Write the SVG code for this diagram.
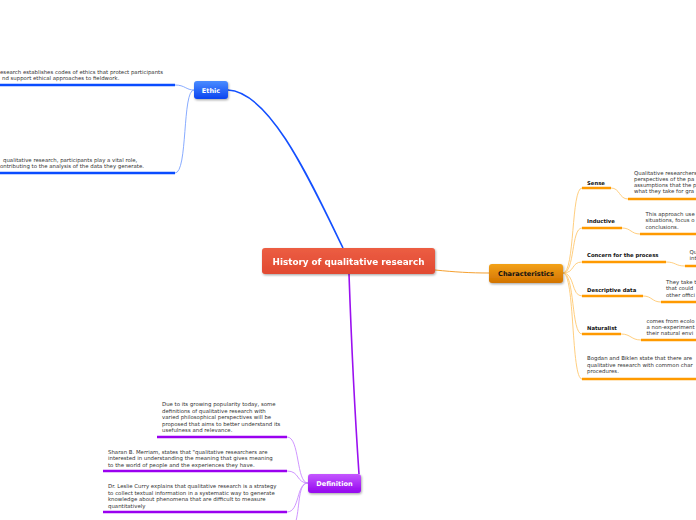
<svg xmlns="http://www.w3.org/2000/svg" width="696" height="520" viewBox="0 0 696 520">
<defs>
<linearGradient id="gMain" x1="0" y1="0" x2="0" y2="1"><stop offset="0" stop-color="#ec5d43"/><stop offset="1" stop-color="#e14a31"/></linearGradient>
<linearGradient id="gBlue" x1="0" y1="0" x2="0" y2="1"><stop offset="0" stop-color="#4a8cff"/><stop offset="1" stop-color="#0a44f0"/></linearGradient>
<linearGradient id="gOrange" x1="0" y1="0" x2="0" y2="1"><stop offset="0" stop-color="#f3a21a"/><stop offset="1" stop-color="#d27300"/></linearGradient>
<linearGradient id="gPurple" x1="0" y1="0" x2="0" y2="1"><stop offset="0" stop-color="#c457ff"/><stop offset="1" stop-color="#9406ee"/></linearGradient>
<filter id="sh" x="-20%" y="-30%" width="140%" height="170%"><feDropShadow dx="0.8" dy="1.2" stdDeviation="1" flood-color="#000" flood-opacity="0.35"/></filter>
</defs>
<style>
.topic{font-family:"DejaVu Sans",Verdana,sans-serif;font-weight:bold;fill:#fff;text-anchor:middle}
.lbl{font-family:"DejaVu Sans",Verdana,sans-serif;font-weight:bold;font-size:5.3px;fill:#111}
.txt{font-family:"DejaVu Sans",Verdana,sans-serif;font-size:5.4px;fill:#333}
.ulB{stroke:#0a4cff;stroke-width:2.5;fill:none}
.ulO{stroke:#ff9a00;stroke-width:2.5;fill:none}
.ulP{stroke:#9a00f0;stroke-width:2.5;fill:none}
.cB{stroke:#7aa2ff;stroke-width:0.9;fill:none}
.cO{stroke:#ffc870;stroke-width:0.9;fill:none}
.cP{stroke:#c98aff;stroke-width:0.9;fill:none}
</style>

<g id="connectors">
<path d="M343,248 C310,180 270,92 228,90" stroke="#1450ff" stroke-width="1.6" fill="none"/>
<path d="M435,270 C455,272 470,273 489,273" stroke="#f5a030" stroke-width="1" fill="none"/>
<path d="M349,274 C352,360 356,430 359,474" stroke="#9a10f0" stroke-width="1.6" fill="none"/>
<path class="cB" d="M175,85 C185,85 186,90 194,90"/>
<path class="cB" d="M175,173 C188,173 182,90 194,90"/>
<path class="cO" d="M563,273 C575,273 571,188 582,188"/>
<path class="cO" d="M563,273 C575,273 571,228 582,228"/>
<path class="cO" d="M563,273 C575,273 571,262 582,262"/>
<path class="cO" d="M563,273 C575,273 571,296 582,296"/>
<path class="cO" d="M563,273 C575,273 571,334 582,334"/>
<path class="cO" d="M563,273 C575,273 571,379 582,379"/>
<path class="cO" d="M611,188 C620,188 619,199 628,199"/>
<path class="cO" d="M622,228 C631,228 631,234 640,234"/>
<path class="cO" d="M666,262 C676,262 675,266 685,266"/>
<path class="cO" d="M643,296 C652,296 652,302 661,302"/>
<path class="cO" d="M621,334 C631,334 631,340 641,340"/>
<path class="cP" d="M308,483 C296,483 300,437 287,437"/>
<path class="cP" d="M308,483 C296,483 300,471 287,471"/>
<path class="cP" d="M308,483 C296,483 300,512 287,512"/>
<path class="cP" d="M308,483 C298,483 300,505 296,521"/>
</g>

<g id="node-main" filter="url(#sh)">
<rect x="262" y="248" width="173" height="26" rx="3" fill="url(#gMain)"/>
<text class="topic" x="348.5" y="264.5" font-size="8.8">History of qualitative research</text>
</g>

<g id="node-ethic">
<rect x="194" y="81" width="34" height="18" rx="3" fill="url(#gBlue)" filter="url(#sh)"/>
<text class="topic" x="211" y="93" font-size="6.5">Ethic</text>
</g>
<g id="ethic-1">
<text class="txt"><tspan x="0" y="74">esearch establishes codes of ethics that protect participants</tspan><tspan x="2" y="80">nd support ethical approaches to fieldwork.</tspan></text>
<path class="ulB" d="M0,85 H175"/>
</g>
<g id="ethic-2">
<text class="txt"><tspan x="3" y="162">qualitative research, participants play a vital role,</tspan><tspan x="0" y="168">ontributing to the analysis of the data they generate.</tspan></text>
<path class="ulB" d="M0,173 H175"/>
</g>

<g id="node-characteristics">
<rect x="489" y="264" width="74" height="19" rx="3" fill="url(#gOrange)" filter="url(#sh)"/>
<text class="topic" x="526" y="276" font-size="6.6" style="fill:#111">Characteristics</text>
</g>
<g id="sense">
<text class="lbl" x="587" y="185">Sense</text>
<path class="ulO" d="M582,188 H611"/>
<text class="txt"><tspan x="634" y="175">Qualitative researchers</tspan><tspan x="634" y="181">perspectives of the pa</tspan><tspan x="634" y="187">assumptions that the p</tspan><tspan x="634" y="193">what they take for gra</tspan></text>
<path class="ulO" d="M628,199 H696"/>
</g>
<g id="inductive">
<text class="lbl" x="587" y="223">Inductive</text>
<path class="ulO" d="M582,228 H622"/>
<text class="txt"><tspan x="645.5" y="216">This approach use</tspan><tspan x="645.5" y="222">situations, focus o</tspan><tspan x="645.5" y="228.5">conclusions.</tspan></text>
<path class="ulO" d="M640,234 H696"/>
</g>
<g id="concern">
<text class="lbl" x="587" y="257">Concern for the process</text>
<path class="ulO" d="M582,262 H666"/>
<text class="txt"><tspan x="689.5" y="254">Qu</tspan><tspan x="689.5" y="260">int</tspan></text>
<path class="ulO" d="M685,266 H696"/>
</g>
<g id="descriptive">
<text class="lbl" x="587" y="291.5">Descriptive data</text>
<path class="ulO" d="M582,296 H643"/>
<text class="txt"><tspan x="666" y="284">They take t</tspan><tspan x="666" y="290">that could</tspan><tspan x="666" y="296.5">other offici</tspan></text>
<path class="ulO" d="M661,302 H696"/>
</g>
<g id="naturalist">
<text class="lbl" x="587" y="329.5">Naturalist</text>
<path class="ulO" d="M582,334 H621"/>
<text class="txt"><tspan x="646.5" y="323">comes from ecolo</tspan><tspan x="646.5" y="329">a non-experiment</tspan><tspan x="646.5" y="335">their natural envi</tspan></text>
<path class="ulO" d="M641,340 H696"/>
</g>
<g id="bogdan">
<text class="txt"><tspan x="587" y="360">Bogdan and Biklen state that there are</tspan><tspan x="587" y="366.5">qualitative research with common char</tspan><tspan x="587" y="373">procedures.</tspan></text>
<path class="ulO" d="M582,379 H696"/>
</g>

<g id="node-definition">
<rect x="308" y="474" width="53" height="19" rx="3" fill="url(#gPurple)" filter="url(#sh)"/>
<text class="topic" x="334.5" y="486" font-size="6.6">Definition</text>
</g>
<g id="def-1">
<text class="txt"><tspan x="162" y="406">Due to its growing popularity today, some</tspan><tspan x="162" y="412.5">definitions of qualitative research with</tspan><tspan x="162" y="419">varied philosophical perspectives will be</tspan><tspan x="162" y="425.5">proposed that aims to better understand its</tspan><tspan x="162" y="432">usefulness and relevance.</tspan></text>
<path class="ulP" d="M157,437 H287"/>
</g>
<g id="def-2">
<text class="txt"><tspan x="108" y="453.5">Sharan B. Merriam, states that "qualitative researchers are</tspan><tspan x="108" y="460">interested in understanding the meaning that gives meaning</tspan><tspan x="108" y="466.5">to the world of people and the experiences they have.</tspan></text>
<path class="ulP" d="M103,471 H287"/>
</g>
<g id="def-3">
<text class="txt"><tspan x="108" y="488">Dr. Leslie Curry explains that qualitative research is a strategy</tspan><tspan x="108" y="494.5">to collect textual information in a systematic way to generate</tspan><tspan x="108" y="501">knowledge about phenomena that are difficult to measure</tspan><tspan x="108" y="507.5">quantitatively</tspan></text>
<path class="ulP" d="M103,512 H287"/>
</g>
</svg>
